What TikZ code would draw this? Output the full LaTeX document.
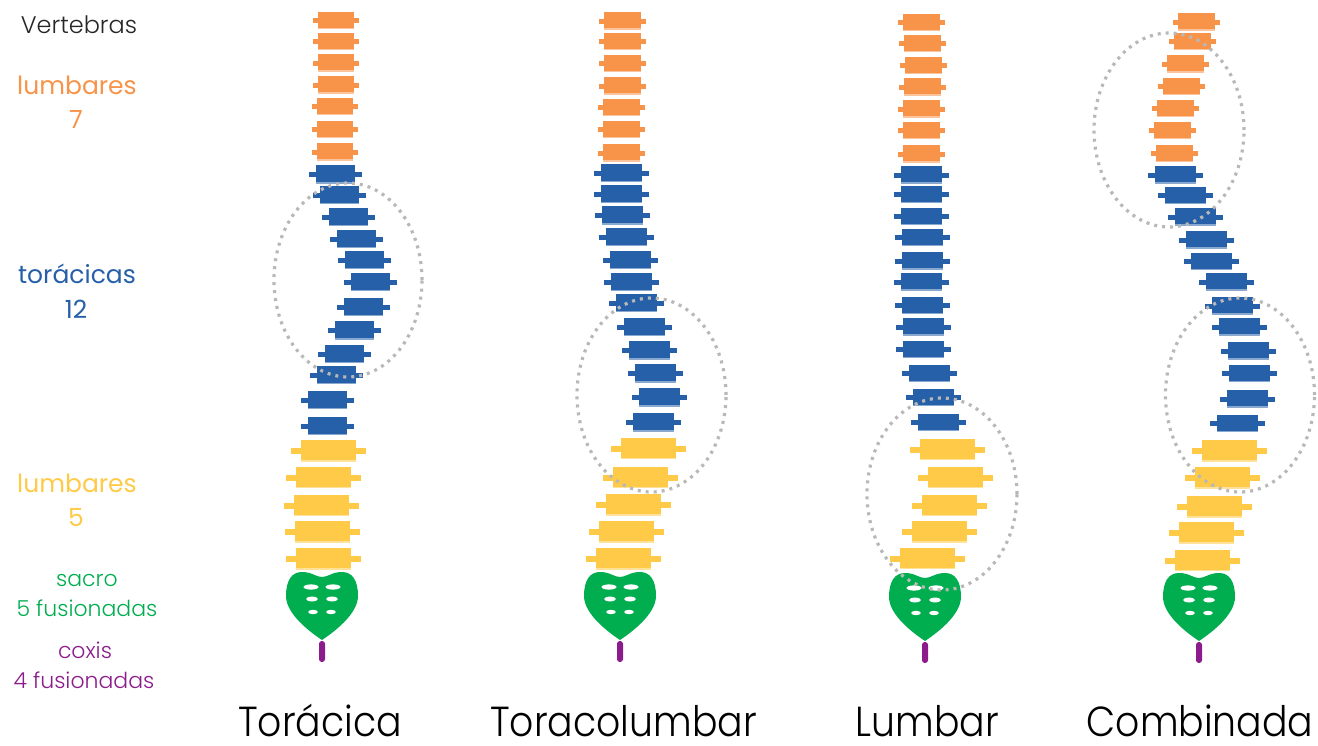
\documentclass[tikz,border=0pt]{standalone}
\usepackage{fontspec}
\setmainfont{Poppins}
\newfontfamily\lightfont{Poppins Light}
\newfontfamily\titlefont{Poppins Light}[FakeStretch=0.9]
\definecolor{orng}{HTML}{F7944A}
\definecolor{tblue}{HTML}{2660A8}
\definecolor{lyel}{HTML}{FECA48}
\definecolor{sgreen}{HTML}{00AE4F}
\definecolor{cpurp}{HTML}{8C1C8C}
\definecolor{ringgray}{HTML}{B8B8B8}

% one vertebra: colour, centre x, centre y, width, height, process reach, process thickness
\newcommand\vbblock[7]{%
  \fill[#1!55] ({#2-#4/2},{#3-#5/2+1.5}) rectangle ({#2+#4/2},{#3+#5/2+1.5});
  \fill[#1] ({#2-#4/2-#6},{#3-#7/2+1}) rectangle ({#2+#4/2+#6},{#3+#7/2+1});
  \fill[#1] ({#2-#4/2},{#3-#5/2}) rectangle ({#2+#4/2},{#3+#5/2});
}
% sacrum with its foramina, and the coccyx below it
\newcommand\sacrumcoccyx[2]{%
  \begin{scope}[shift={(#1,#2)}]
    \fill[sgreen] (0,68) .. controls (-12,60) and (-36,42) .. (-36,24)
      .. controls (-36,8) and (-30,0) .. (-20,0)
      .. controls (-10,0) and (-6,5) .. (0,5)
      .. controls (6,5) and (10,0) .. (20,0)
      .. controls (30,0) and (36,8) .. (36,24)
      .. controls (36,42) and (12,60) .. (0,68) -- cycle;
    \fill[white] (-11,15) ellipse [x radius=7.5pt, y radius=2.6pt];
    \fill[white] (11,15) ellipse [x radius=7.5pt, y radius=2.6pt];
    \fill[white] (-10,27) ellipse [x radius=6pt, y radius=2.4pt];
    \fill[white] (10,27) ellipse [x radius=6pt, y radius=2.4pt];
    \fill[white] (-9,40) ellipse [x radius=4.8pt, y radius=2.2pt];
    \fill[white] (9,40) ellipse [x radius=4.8pt, y radius=2.2pt];
    \fill[cpurp, rounded corners=2.8pt] (-3,69) rectangle (3,90);
  \end{scope}
}

\tikzset{
  dotring/.style={draw=ringgray, line width=3.2pt, dash pattern=on 3pt off 5pt},
  spinetitle/.style={anchor=base, inner sep=0pt,
    font=\titlefont\fontsize{42}{46}\selectfont, text=black},
  keylabel/.style={anchor=base, inner sep=0pt, font=\fontsize{25}{29}\selectfont},
  smalllabel/.style={anchor=base, inner sep=0pt, font=\lightfont\fontsize{22}{26}\selectfont},
}

\begin{document}
\begin{tikzpicture}[x=1pt, y=-1pt]
\useasboundingbox (0,0) rectangle (1318,745);

% ---- left key ----
\node[anchor=base, inner sep=0pt, font=\lightfont\fontsize{24}{28}\selectfont, text=black!85] (kv) at (79,33) {Vertebras};
\node[keylabel, text=orng] (kc) at (77,94) {lumbares};
\node[keylabel, text=orng] (kcn) at (76,128) {7};
\node[keylabel, text=tblue] (kt) at (77,283) {torácicas};
\node[keylabel, text=tblue] (ktn) at (76,318) {12};
\node[keylabel, text=lyel] (kl) at (77,492) {lumbares};
\node[keylabel, text=lyel] (kln) at (76,526) {5};
\node[smalllabel, text=sgreen] (ks) at (87,586) {sacro};
\node[smalllabel, text=sgreen] (ksn) at (87,616) {5 fusionadas};
\node[smalllabel, text=cpurp] (kx) at (85,658) {coxis};
\node[smalllabel, text=cpurp] (kxn) at (84,688) {4 fusionadas};

% ---- spine 1: thoracic curve ----
\foreach \cx/\cy in {335.5/19.5,336/40.5,336/62,336/84,335/105.5,335/128.5,335/151}
  {\vbblock{orng}{\cx}{\cy}{36}{16}{5}{5}}
\foreach \cx/\cy in {335/173.5,339/194,348/216,356/238,364.5/259,370/281,363/306,354/329.5,344/353,336/374,327.5/399,327.5/425}
  {\vbblock{tblue}{\cx}{\cy}{39}{17}{7}{5}}
\foreach \cx/\cy in {328.5/450,323.5/476.5,321/504.5,322/531,323.5/558}
  {\vbblock{lyel}{\cx}{\cy}{55}{20}{10}{6}}
\sacrumcoccyx{322}{572}

% ---- spine 2: thoracolumbar curve ----
\foreach \cx/\cy in {622/20,622/40.5,622/62.5,622/85,621.5/106.5,621/128.5,621/152}
  {\vbblock{orng}{\cx}{\cy}{37}{16}{5}{5}}
\foreach \cx/\cy in {621/172,621/193,622.5/214.5,626/236,630/259,631.5/281,636.5/302,644/326,649.5/349.5,655/372.5,659/396.5,653.5/421.5}
  {\vbblock{tblue}{\cx}{\cy}{41}{17}{7}{5}}
\foreach \cx/\cy in {648/447.5,640.5/476.5,633.5/504,626/531,623/558}
  {\vbblock{lyel}{\cx}{\cy}{55}{20}{10}{6}}
\sacrumcoccyx{620}{572}

% ---- spine 3: lumbar curve ----
\foreach \cx/\cy in {921.5/21.5,922/42.5,923/64.5,922.5/86,921/108,921/129.5,921/153}
  {\vbblock{orng}{\cx}{\cy}{37}{16}{5}{5}}
\foreach \cx/\cy in {921/174,921/193.5,921.5/215.5,922/236.5,922.5/260,921.5/281,922.5/304.5,923/326,923/348.5,929.5/372.5,933.5/396.5,938.5/421.5}
  {\vbblock{tblue}{\cx}{\cy}{41}{16}{7}{5}}
\foreach \cx/\cy in {947.5/448.5,955/476.5,949/504.5,939.5/531,927.5/557.5}
  {\vbblock{lyel}{\cx}{\cy}{55}{20}{10}{6}}
\sacrumcoccyx{925}{573}

% ---- spine 4: combined curves ----
\foreach \cx/\cy in {1196.5/21,1192/40.5,1185/63,1181.5/85.5,1175/107.5,1172.5/129.5,1174/152.5}
  {\vbblock{orng}{\cx}{\cy}{37}{16}{5}{5}}
\foreach \cx/\cy in {1175.5/174,1185/194.5,1195.5/216,1206/239,1211.5/260.5,1226/281,1232.5/305,1239/326,1248/350,1249.5/372.5,1247/398,1237.5/422.5}
  {\vbblock{tblue}{\cx}{\cy}{41}{16}{7}{5}}
\foreach \cx/\cy in {1229.5/450,1222/477,1214/506,1206/532,1202.5/559.5}
  {\vbblock{lyel}{\cx}{\cy}{55}{20}{10}{6}}
\sacrumcoccyx{1199}{573}

% ---- dotted rings marking each curve ----
\draw[dotring] (348,280) ellipse [x radius=74pt, y radius=97pt];
\draw[dotring] (651.5,395) ellipse [x radius=74.5pt, y radius=97pt];
\draw[dotring] (942,494) ellipse [x radius=75pt, y radius=96pt];
\draw[dotring] (1169,130) ellipse [x radius=75pt, y radius=97pt];
\draw[dotring] (1240,395) ellipse [x radius=74.5pt, y radius=97pt];

% ---- titles ----
\node[spinetitle] (s1) at (320,736) {Torácica};
\node[spinetitle] (s2) at (623.5,736) {Toracolumbar};
\node[spinetitle] (s3) at (927.5,736) {Lumbar};
\node[spinetitle] (s4) at (1200,736) {Combinada};
\end{tikzpicture}
\end{document}
